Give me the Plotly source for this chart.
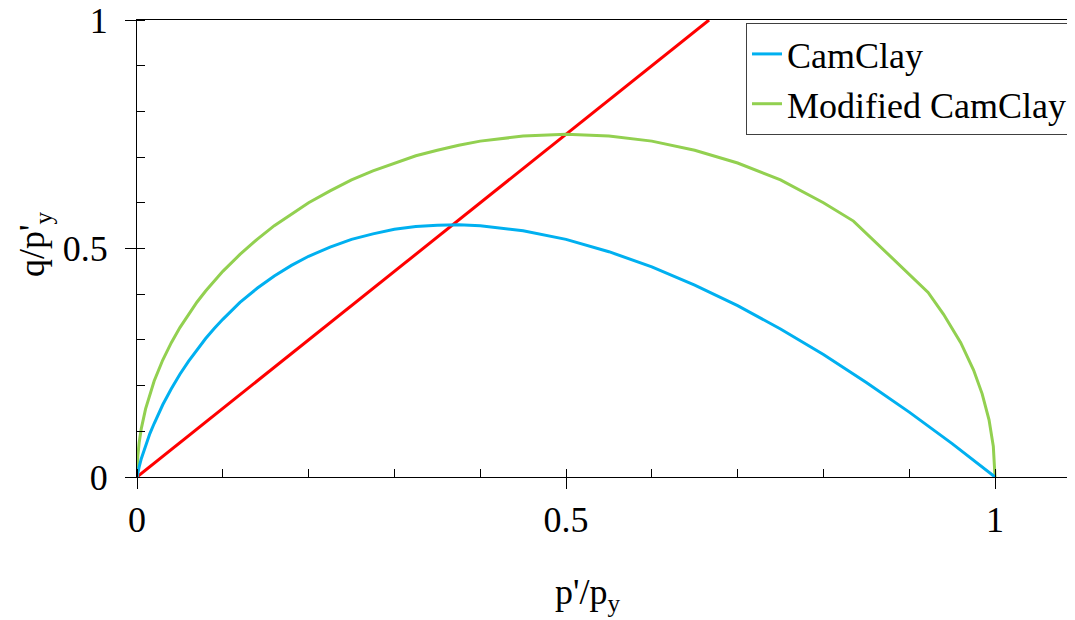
import plotly.graph_objects as go

# ---- data ----
cc_p = [0.0, 0.001, 0.0025, 0.005, 0.0075, 0.01, 0.015, 0.02, 0.03, 0.04, 0.05, 0.06,
        0.07, 0.08, 0.09, 0.10, 0.12, 0.14, 0.16, 0.18, 0.20, 0.225, 0.25, 0.275, 0.30,
        0.325, 0.35, 0.375, 0.40, 0.45, 0.50, 0.55, 0.60, 0.65, 0.70, 0.75, 0.80, 0.85,
        0.90, 0.95, 1.0]
cc_q = [0.0, 0.010, 0.022, 0.040, 0.055, 0.069, 0.095, 0.117, 0.158, 0.193, 0.225, 0.253,
        0.279, 0.303, 0.325, 0.345, 0.382, 0.413, 0.440, 0.463, 0.483, 0.503, 0.520, 0.532,
        0.542, 0.548, 0.551, 0.552, 0.550, 0.539, 0.520, 0.493, 0.460, 0.420, 0.375, 0.324,
        0.268, 0.207, 0.142, 0.073, 0.0]

mcc_p = [0.0, 0.0005, 0.001, 0.0025, 0.005, 0.01, 0.015, 0.02, 0.03, 0.04, 0.05, 0.06,
         0.07, 0.08, 0.10, 0.12, 0.14, 0.16, 0.18, 0.20, 0.225, 0.25, 0.275, 0.30, 0.325,
         0.35, 0.375, 0.40, 0.45, 0.50, 0.55, 0.60, 0.65, 0.70, 0.75, 0.80, 0.835, 0.922,
         0.94, 0.96, 0.975, 0.985, 0.993, 0.998, 1.0]
mcc_q = [0.0, 0.034, 0.047, 0.075, 0.106, 0.149, 0.182, 0.210, 0.256, 0.294, 0.327, 0.356,
         0.383, 0.407, 0.450, 0.487, 0.520, 0.550, 0.576, 0.600, 0.626, 0.650, 0.670, 0.687,
         0.703, 0.715, 0.726, 0.735, 0.746, 0.750, 0.746, 0.735, 0.715, 0.687, 0.650, 0.600,
         0.560, 0.404, 0.356, 0.294, 0.234, 0.182, 0.125, 0.067, 0.0]

csl_p = [0.0, 0.6667]
csl_q = [0.0, 1.0]

x_major = [0, 0.5, 1]
x_major_text = ["0", "0.5", "1"]
y_major = [0, 0.5, 1]
y_major_text = ["0", "0.5", "1"]

x_title = "p'/p<sub>y</sub>"
y_title = "q/p'<sub>y</sub>"

FONT = "Liberation Serif"
BLUE = "#00B0F0"
GREEN = "#92D050"
RED = "#FF0000"

fig = go.Figure()
fig.add_trace(go.Scatter(x=csl_p, y=csl_q, mode="lines", line=dict(color=RED, width=3),
                         showlegend=False))
fig.add_trace(go.Scatter(x=mcc_p, y=mcc_q, mode="lines", line=dict(color=GREEN, width=3),
                         name="Modified CamClay"))
fig.add_trace(go.Scatter(x=cc_p, y=cc_q, mode="lines", line=dict(color=BLUE, width=3),
                         name="CamClay"))

XR = [0, 1.0932]
YR = [0, 1]

# axis titles as annotations (positioned like the reference)
fig.add_annotation(x=0.4808, y=-0.258, xref="paper", yref="paper", xanchor="center",
                   yanchor="middle", text=x_title, showarrow=False,
                   font=dict(family=FONT, size=36, color="black"))
fig.add_annotation(x=-0.1087, y=0.51, xref="paper", yref="paper", xanchor="center",
                   yanchor="middle", text=y_title, showarrow=False, textangle=-90,
                   font=dict(family=FONT, size=36, color="black"))

fig.update_layout(
    width=1067, height=612,
    margin=dict(l=129, r=0, t=12, b=143, autoexpand=False),
    paper_bgcolor="white", plot_bgcolor="white",
    font=dict(family=FONT, size=36, color="black"),
    xaxis=dict(range=XR, showgrid=False, zeroline=False, showline=True, linecolor="black",
               linewidth=1.3, mirror=True,
               tickmode="array", tickvals=x_major, ticktext=x_major_text,
               tickfont=dict(family=FONT, size=36, color="black"),
               ticks="outside", ticklen=11, tickwidth=1, tickcolor="black",
               minor=dict(ticks="inside", ticklen=8, dtick=0.1, tick0=0, tickcolor="black",
                          tickwidth=1, showgrid=False),
               ticklabelstandoff=0, ticklabeloverflow="allow"),
    yaxis=dict(range=YR, showgrid=False, zeroline=False, showline=True, linecolor="black",
               linewidth=1.3,
               tickmode="array", tickvals=y_major, ticktext=y_major_text,
               tickfont=dict(family=FONT, size=36, color="black"),
               ticks="outside", ticklen=11, tickwidth=1, tickcolor="black",
               minor=dict(ticks="inside", ticklen=8, dtick=0.1, tick0=0, tickcolor="black",
                          tickwidth=1, showgrid=False),
               ticklabelstandoff=10, ticklabeloverflow="allow"),
    xaxis2=dict(range=XR, overlaying="x", anchor="y", showgrid=False, zeroline=False,
                showline=False, tickmode="array", tickvals=x_major, showticklabels=False,
                ticks="inside", ticklen=11, tickwidth=1, tickcolor="black"),
    yaxis2=dict(range=YR, overlaying="y", anchor="x", showgrid=False, zeroline=False,
                showline=False, tickmode="array", tickvals=y_major, showticklabels=False,
                ticks="inside", ticklen=11, tickwidth=1, tickcolor="black"),
    legend=dict(x=0.9968, y=0.9934, xanchor="right", yanchor="top",
                bgcolor="white", bordercolor="#404040", borderwidth=1,
                font=dict(family=FONT, size=36, color="black"), traceorder="reversed"),
)

fig.write_html("out.html")
